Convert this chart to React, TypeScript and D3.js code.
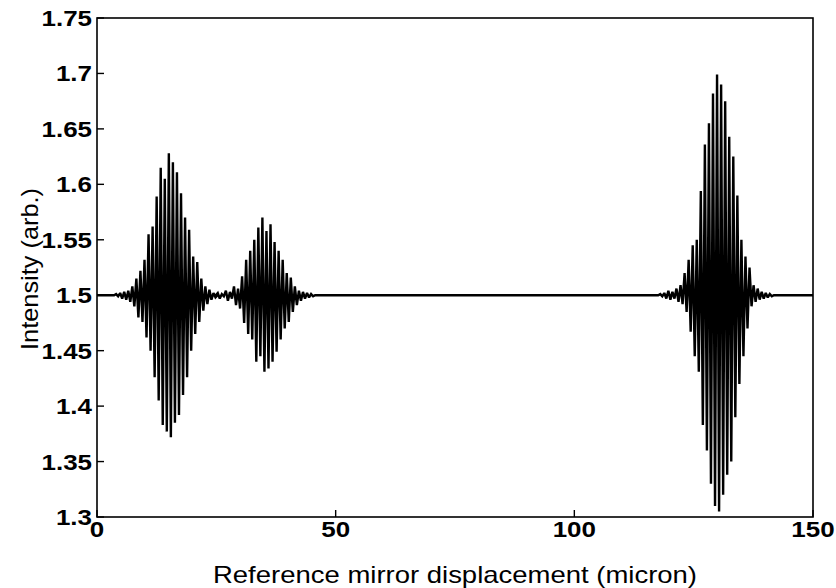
import React from "react";
import * as d3 from "d3";

// Fringe period (micron) of the interference signal
const fringePeriod = 0.85;

// Packet 1 (surface 1)
const p1Start = 4.0;
const p1Peaks = [1.501, 1.502, 1.503, 1.504, 1.508, 1.515, 1.522, 1.532, 1.555, 1.562, 1.589, 1.615, 1.605, 1.628, 1.62, 1.611, 1.592, 1.57, 1.559, 1.535, 1.53, 1.515, 1.508, 1.505, 1.502];
const p1Troughs = [1.499, 1.497, 1.496, 1.494, 1.49, 1.48, 1.476, 1.462, 1.45, 1.426, 1.405, 1.383, 1.377, 1.372, 1.385, 1.392, 1.41, 1.426, 1.45, 1.465, 1.476, 1.486, 1.492, 1.496, 1.498];

// Packet 2
const p2Start = 25.3;
const p2Peaks = [1.502, 1.501, 1.504, 1.503, 1.508, 1.506, 1.517, 1.532, 1.54, 1.55, 1.561, 1.57, 1.558, 1.564, 1.548, 1.54, 1.532, 1.52, 1.516, 1.508, 1.504, 1.503, 1.502, 1.501];
const p2Troughs = [1.497, 1.499, 1.495, 1.497, 1.491, 1.488, 1.475, 1.465, 1.46, 1.44, 1.445, 1.431, 1.434, 1.44, 1.449, 1.46, 1.47, 1.476, 1.485, 1.491, 1.495, 1.497, 1.498, 1.499];

// Packet 3
const p3Start = 118.0;
const p3Peaks = [1.501, 1.502, 1.504, 1.503, 1.506, 1.509, 1.52, 1.532, 1.545, 1.55, 1.594, 1.636, 1.655, 1.682, 1.699, 1.69, 1.675, 1.643, 1.625, 1.59, 1.55, 1.535, 1.525, 1.509, 1.506, 1.503, 1.502, 1.501];
const p3Troughs = [1.499, 1.497, 1.496, 1.497, 1.494, 1.492, 1.485, 1.467, 1.445, 1.431, 1.383, 1.36, 1.33, 1.31, 1.305, 1.32, 1.338, 1.35, 1.39, 1.42, 1.445, 1.47, 1.49, 1.494, 1.496, 1.497, 1.498, 1.499];

const baseline = 1.5;
const xDomain: [number, number] = [0, 150];
const yDomain: [number, number] = [1.3, 1.75];
const xTicks = [0, 50, 100, 150];
const yTicks = [1.3, 1.35, 1.4, 1.45, 1.5, 1.55, 1.6, 1.65, 1.7, 1.75];
const xLabel = "Reference mirror displacement (micron)";
const yLabel = "Intensity (arb.)";

const W = 836, H = 588;
const M = { left: 97, right: 813, top: 18, bottom: 517 };

function buildPoints(): [number, number][] {
  const pts: [number, number][] = [[xDomain[0], baseline]];
  const packets: [number, number[], number[]][] = [
    [p1Start, p1Peaks, p1Troughs],
    [p2Start, p2Peaks, p2Troughs],
    [p3Start, p3Peaks, p3Troughs],
  ];
  for (const [start, peaks, troughs] of packets) {
    pts.push([start - fringePeriod / 2, baseline]);
    peaks.forEach((v, i) => {
      pts.push([start + i * fringePeriod, v]);
      pts.push([start + i * fringePeriod + fringePeriod / 2, troughs[i]]);
    });
    pts.push([start + peaks.length * fringePeriod, baseline]);
  }
  pts.push([xDomain[1], baseline]);
  return pts;
}

export default function App() {
  const x = d3.scaleLinear().domain(xDomain).range([M.left, M.right]);
  const y = d3.scaleLinear().domain(yDomain).range([M.bottom, M.top]);
  const line = d3.line<[number, number]>().x((d) => x(d[0])).y((d) => y(d[1]));
  const pts = buildPoints();
  const tickFont = "'Liberation Sans', Arial, sans-serif";
  const fmtY = (v: number) => String(+v.toFixed(2));

  return (
    <svg width={W} height={H} style={{ position: "absolute", left: 0, top: 0, background: "#fff" }}>
      <rect x={0} y={0} width={W} height={H} fill="#fff" />
      <path d={line(pts) || ""} fill="none" stroke="#000" strokeWidth={2.4} strokeLinejoin="miter" strokeMiterlimit={2} />
      <rect x={M.left} y={M.top} width={M.right - M.left} height={M.bottom - M.top} fill="none" stroke="#000" strokeWidth={1.6} />
      {yTicks.map((t) => (
        <g key={"y" + t}>
          <line x1={M.left} x2={M.left + 7} y1={y(t)} y2={y(t)} stroke="#000" strokeWidth={1.4} />
          <text
            transform={`translate(${M.left - 5},${y(t) + 8}) scale(1.18,1)`}
            textAnchor="end"
            fontFamily={tickFont}
            fontWeight="bold"
            fontSize={22}
            fill="#000"
          >
            {fmtY(t)}
          </text>
        </g>
      ))}
      {xTicks.map((t) => (
        <g key={"x" + t}>
          <line x1={x(t)} x2={x(t)} y1={M.bottom} y2={M.bottom - 7} stroke="#000" strokeWidth={1.4} />
          <text
            transform={`translate(${x(t)},${M.bottom + 20}) scale(1.18,1)`}
            textAnchor="middle"
            fontFamily={tickFont}
            fontWeight="bold"
            fontSize={22}
            fill="#000"
          >
            {t}
          </text>
        </g>
      ))}
      <text
        x={455}
        y={583}
        textAnchor="middle"
        fontFamily={tickFont}
        fontSize={24}
        textLength={484}
        lengthAdjust="spacingAndGlyphs"
        fill="#000"
      >
        {xLabel}
      </text>
      <text
        transform={`translate(38,269) rotate(-90)`}
        textAnchor="middle"
        fontFamily={tickFont}
        fontSize={24}
        textLength={162}
        lengthAdjust="spacingAndGlyphs"
        fill="#000"
      >
        {yLabel}
      </text>
    </svg>
  );
}
